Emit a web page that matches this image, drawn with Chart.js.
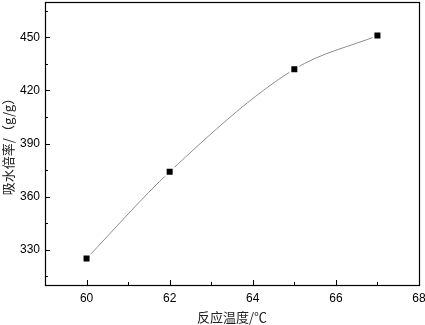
<!DOCTYPE html>
<html>
<head>
<meta charset="utf-8">
<script src="https://cdn.jsdelivr.net/npm/chart.js@4"></script>
<style>
  html, body { margin: 0; padding: 0; background: #fff; }
  #wrap { width: 425px; height: 325px; }
</style>
</head>
<body>
<div id="wrap"><canvas id="absorbChart"></canvas></div>
<script>
// reaction temperature (°C) vs water absorption (g/g)
const temps = [60, 62, 65, 67];
const absorb = [325, 374, 432, 451];
const xTicks = [60, 62, 64, 66, 68];
const yTicks = [330, 360, 390, 420, 450];
const xMinor = [61, 63, 65, 67];
const yMinor = [315, 345, 375, 405, 435, 465];

// ticks pointing into the plot, plus the closed frame
const innerTicks = {
    id: 'innerTicks',
    afterDraw(chart) {
        const { ctx, chartArea: a, scales } = chart;
        ctx.save();
        ctx.strokeStyle = '#000';
        ctx.lineWidth = 1;
        ctx.beginPath();
        xTicks.forEach(v => {
            const px = Math.round(scales.x.getPixelForValue(v)) + 0.5;
            ctx.moveTo(px, a.bottom); ctx.lineTo(px, a.bottom - 5);
        });
        xMinor.forEach(v => {
            const px = Math.round(scales.x.getPixelForValue(v)) + 0.5;
            ctx.moveTo(px, a.bottom); ctx.lineTo(px, a.bottom - 3);
        });
        yTicks.forEach(v => {
            const py = Math.round(scales.y.getPixelForValue(v)) + 0.5;
            ctx.moveTo(a.left, py); ctx.lineTo(a.left + 5, py);
        });
        yMinor.forEach(v => {
            const py = Math.round(scales.y.getPixelForValue(v)) + 0.5;
            ctx.moveTo(a.left, py); ctx.lineTo(a.left + 3, py);
        });
        ctx.stroke();
        ctx.lineWidth = 1.2;
        ctx.strokeRect(Math.round(a.left) + 0.5, Math.round(a.top) + 0.5,
            Math.round(a.right - a.left), Math.round(a.bottom - a.top));
        ctx.restore();
    }
};

const ctx = document.getElementById('absorbChart').getContext('2d');
new Chart(ctx, {
    type: 'scatter',
    data: {
        datasets: [{
            data: temps.map((t, i) => ({ x: t, y: absorb[i] })),
            showLine: true,
            borderColor: '#8c8c8c',
            borderWidth: 1,
            cubicInterpolationMode: 'monotone',
            pointStyle: 'rect',
            pointRadius: 5.66,
            pointBackgroundColor: '#000',
            pointBorderColor: '#fff',
            pointBorderWidth: 2
        }]
    },
    options: {
        responsive: true,
        maintainAspectRatio: false,
        animation: false,
        layout: { autoPadding: false, padding: { top: 2, right: 6, left: 0, bottom: 0 } },
        plugins: { legend: { display: false }, tooltip: { enabled: false } },
        scales: {
            x: {
                type: 'linear',
                min: 59, max: 68,
                afterBuildTicks: s => { s.ticks = xTicks.map(v => ({ value: v })); },
                afterFit: s => { s.height = 40; s.paddingLeft = 0; s.paddingRight = 0; },
                grid: { display: false, drawTicks: false },
                border: { display: false },
                ticks: { padding: 6, color: '#000', font: { family: 'Liberation Sans', size: 12 } },
                title: {
                    display: true, text: '反应温度/℃', color: '#222',
                    padding: { top: 0, bottom: 0 },
                    font: { family: 'Noto Sans CJK SC', size: 13 }
                }
            },
            y: {
                min: 310, max: 470,
                afterBuildTicks: s => { s.ticks = yTicks.map(v => ({ value: v })); },
                afterFit: s => { s.width = 45; s.paddingTop = 0; s.paddingBottom = 0; },
                grid: { display: false, drawTicks: false },
                border: { display: false },
                ticks: { padding: 5, color: '#000', font: { family: 'Liberation Sans', size: 12 } },
                title: {
                    display: true, text: '吸水倍率/（g/g）', color: '#222',
                    padding: { top: 0, bottom: 0 },
                    font: { family: 'Noto Sans CJK SC', size: 13 }
                }
            }
        }
    },
    plugins: [innerTicks]
});
</script>
</body>
</html>
